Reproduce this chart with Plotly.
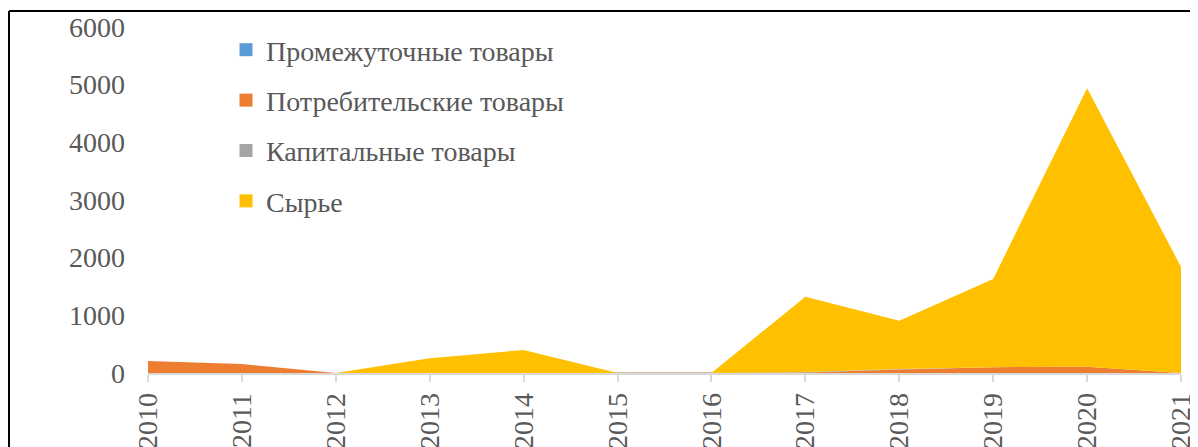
import plotly.graph_objects as go

years = [2010, 2011, 2012, 2013, 2014, 2015, 2016, 2017, 2018, 2019, 2020, 2021]
series_names = ["Промежуточные товары", "Потребительские товары", "Капитальные товары", "Сырье"]
intermediate = [0, 0, 0, 0, 0, 0, 0, 0, 0, 0, 0, 0]
consumer = [210, 155, 0, 0, 0, 0, 0, 10, 60, 100, 110, 0]
capital = [0, 0, 0, 0, 0, 0, 0, 8, 10, 0, 0, 0]
raw = [0, 0, 0, 255, 400, 0, 0, 1305, 835, 1530, 4830, 1840]
colors = ["#5B9BD5", "#ED7D31", "#A5A5A5", "#FFC000"]
y_ticks = [0, 1000, 2000, 3000, 4000, 5000, 6000]

W, H = 1198, 447
ML, MR, MT, MB = 140, 25, 19, 82

fig = go.Figure()
for name, vals, col in zip(series_names, [intermediate, consumer, capital, raw], colors):
    fig.add_trace(go.Scatter(
        x=years, y=vals, name=name, stackgroup="one", mode="lines",
        line=dict(width=0, color=col), fillcolor=col, showlegend=False,
        hoverinfo="x+y+name"))
for i, (name, col) in enumerate(zip(series_names, colors)):
    fig.add_trace(go.Scatter(
        x=[None], y=[None], name=name, mode="markers",
        marker=dict(symbol="square", size=13, color=col),
        legendgroup="g%d" % i, showlegend=True))

pw = W - ML - MR
ph = H - MT - MB
def px_x(p):
    return (p - ML) / pw
def px_y(p):
    return (H - MB - p) / ph

# outer frame (top and left edges visible)
fig.add_shape(type="line", xref="paper", yref="paper",
              x0=px_x(1), x1=px_x(1250), y0=px_y(3), y1=px_y(3),
              line=dict(color="black", width=2))
fig.add_shape(type="line", xref="paper", yref="paper",
              x0=px_x(1), x1=px_x(1), y0=px_y(3), y1=px_y(500),
              line=dict(color="black", width=2))

font = dict(family="Liberation Serif, Times New Roman, serif", color="#595959")

fig.update_layout(
    width=W, height=H,
    margin=dict(l=ML, r=MR, t=MT, b=MB, autoexpand=False),
    plot_bgcolor="white", paper_bgcolor="white",
    font=font,
    showlegend=True,
    legend=dict(x=px_x(218), y=px_y(17), xanchor="left", yanchor="top",
                font=dict(size=28, **font), tracegroupgap=11,
                bgcolor="rgba(0,0,0,0)", itemwidth=30),
    xaxis=dict(range=[2010, 2021], tickmode="array", tickvals=years,
               ticktext=[str(y) for y in years], tickangle=-90,
               showgrid=False, zeroline=False, showline=True,
               linecolor="#D9D9D9", linewidth=1.5,
               ticks="outside", ticklen=7, tickcolor="#D9D9D9", tickwidth=1.5,
               tickfont=dict(size=28, **font)),
    yaxis=dict(range=[0, 6000], tickmode="array", tickvals=y_ticks,
               showgrid=False, zeroline=False, showline=False,
               ticks="", ticklabelstandoff=22,
               tickfont=dict(size=28, **font)),
)

fig.write_html("out.html")
